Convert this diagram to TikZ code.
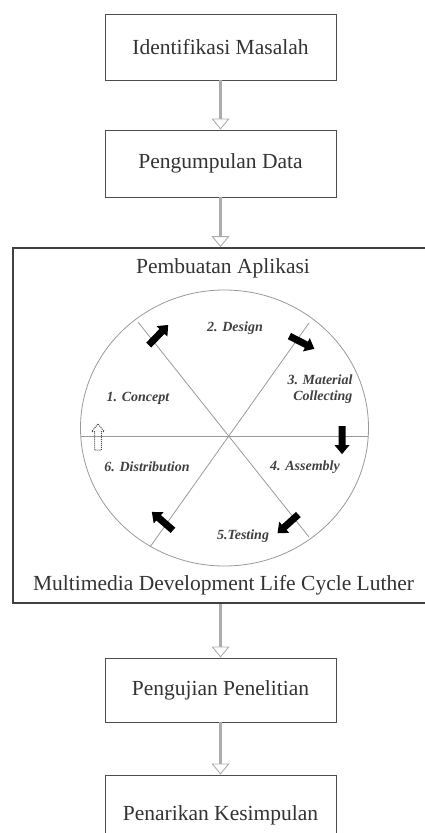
\documentclass[tikz,border=0pt]{standalone}
\usepackage{fontspec}
\setmainfont{Liberation Serif}
\usetikzlibrary{arrows.meta,shapes.arrows,positioning}

\tikzset{
  stepbox/.style={draw=black!70, line width=0.9pt, minimum width=231pt, inner sep=0pt,
    font=\fontsize{21.5}{24}\selectfont, text=black!80},
  bigbox/.style={draw=black!75, line width=1.8pt, inner sep=0pt},
  heading/.style={font=\fontsize{21.5}{24}\selectfont, text=black!80, inner sep=0pt},
  phase/.style={font=\fontsize{14}{16}\selectfont\bfseries\itshape, text=black!75,
    inner sep=0pt, align=center},
  flow/.style={draw=gray!65, line width=2.6pt,
    -{Triangle[open, length=11pt, width=18pt, line width=0.9pt]}},
  spoke/.style={draw=gray!80, line width=0.8pt},
  cycarrow/.style={single arrow, fill=black, draw=none, inner sep=3.3pt,
    single arrow head extend=4pt, single arrow tip angle=80, minimum height=28pt},
  cycarrowdot/.style={cycarrow, fill=none, draw=gray!60!black, densely dotted, line width=1pt,
    inner sep=2.8pt, single arrow head extend=3pt}
}

\begin{document}
\begin{tikzpicture}[x=1pt, y=-1pt]
  \useasboundingbox (0,0) rectangle (424,833);

  % steps
  \node[stepbox, minimum height=66pt] (ident) at (220.5,47) {Identifikasi Masalah};
  \node[stepbox, minimum height=67pt] (data) at (220.5,163.5) {Pengumpulan Data};
  \node[bigbox, minimum width=420pt, minimum height=355pt] (app) at (223,425.5) {};
  \node[stepbox, minimum height=64pt] (uji) at (220.5,690) {Pengujian Penelitian};
  \node[stepbox, minimum height=80pt] (tarik) at (220.5,815) {Penarikan Kesimpulan};

  \node[heading] (apptitle) at (223,268) {Pembuatan Aplikasi};
  \node[heading] (mdlc) at (223.5,585) {Multimedia Development Life Cycle Luther};

  % cycle
  \draw[spoke] (224.5,428) ellipse [x radius=144, y radius=138];
  \coordinate (hub) at (229,436);
  \coordinate (w) at (81,436);
  \coordinate (e) at (368,436);
  \coordinate (nw) at (138,322);
  \coordinate (se) at (309,537);
  \coordinate (ne) at (309,323);
  \coordinate (sw) at (150,547);
  \draw[spoke] (w) -- (e);
  \draw[spoke] (nw) -- (se);
  \draw[spoke] (ne) -- (sw);

  \node[phase] (concept) at (138,398) {1. Concept};
  \node[phase] (design) at (235,328) {2. Design};
  \node[phase, align=right] (material) at (320,389) {3. Material\\ Collecting};
  \node[phase] (assembly) at (305,467) {4. Assembly};
  \node[phase] (testing) at (243,536) {5.Testing};
  \node[phase] (distribution) at (147,467) {6. Distribution};

  \node[cycarrow, rotate=46] (a1) at (157,336.5) {};
  \node[cycarrow, rotate=-27] (a2) at (300,341.5) {};
  \node[cycarrow, rotate=-90] (a3) at (342,438) {};
  \node[cycarrow, rotate=222] (a4) at (289.5,522.5) {};
  \node[cycarrow, rotate=139] (a5) at (164,522.5) {};
  \node[cycarrowdot, rotate=90, minimum height=26pt] (a6) at (98,439) {};

  % connectors
  \draw[flow] (ident) -- (data);
  \draw[flow] (data.south) -- (data.south |- app.north);
  \draw[flow] (uji.north |- app.south) -- (uji.north);
  \draw[flow] (uji) -- (tarik);
\end{tikzpicture}
\end{document}
